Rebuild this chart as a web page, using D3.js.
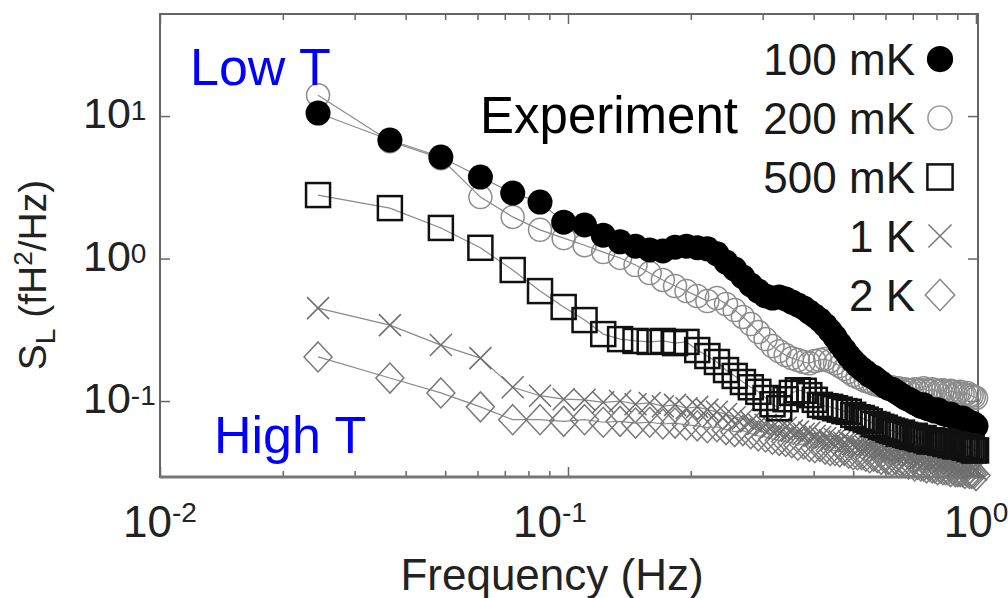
<!DOCTYPE html>
<html><head><meta charset="utf-8">
<script src="https://cdn.jsdelivr.net/npm/d3@7"></script>
<style>html,body{margin:0;padding:0;background:#fff;} svg{display:block;font-family:"Liberation Sans",Arial,Helvetica,sans-serif;}</style>
</head><body><svg id="c" width="1008" height="598"></svg>
<script>
// ---- data (frequency in Hz, spectral density in fH^2/Hz) ----
const freqs = [0.0244,0.0366,0.0488,0.0610,0.0732,0.0854,0.0976,0.1098,0.1220,0.1342,
 0.1464,0.1586,0.1708,0.1830,0.1952,0.2074,0.2196,0.2318,0.2440,0.2562,
 0.2684,0.2806,0.2928,0.3050,0.3172,0.3294,0.3416,0.3538,0.3660,0.3782,
 0.3904,0.4026,0.4148,0.4270,0.4392,0.4514,0.4636,0.4758,0.4880,0.5002,
 0.5124,0.5246,0.5368,0.5490,0.5612,0.5734,0.5856,0.5978,0.6100,0.6222,
 0.6344,0.6466,0.6588,0.6710,0.6832,0.6954,0.7076,0.7198,0.7320,0.7442,
 0.7564,0.7686,0.7808,0.7930,0.8052,0.8174,0.8296,0.8418,0.8540,0.8662,
 0.8784,0.8906,0.9028,0.9150,0.9272,0.9394,0.9516,0.9638,0.9760,0.9882,
 1.0004];
const s100mK = [10.5,6.79,5.16,3.73,2.88,2.49,1.80,1.72,1.46,1.31,
 1.22,1.15,1.13,1.20,1.22,1.19,1.17,1.08,0.945,0.844,
 0.742,0.652,0.591,0.545,0.528,0.537,0.520,0.495,0.472,0.450,
 0.421,0.395,0.370,0.341,0.310,0.281,0.251,0.228,0.207,0.191,
 0.178,0.168,0.160,0.151,0.147,0.140,0.134,0.127,0.123,0.121,
 0.117,0.113,0.109,0.105,0.103,0.100,0.097,0.095,0.092,0.094,
 0.089,0.088,0.087,0.085,0.087,0.084,0.082,0.081,0.080,0.081,
 0.078,0.077,0.076,0.075,0.076,0.074,0.072,0.071,0.070,0.069,
 0.067];
const s200mK = [14.0,6.65,5.05,2.70,1.96,1.59,1.39,1.24,1.11,1.01,
 0.90,0.791,0.707,0.641,0.591,0.545,0.503,0.528,0.479,0.435,
 0.389,0.347,0.305,0.272,0.243,0.224,0.210,0.200,0.194,0.188,
 0.184,0.191,0.194,0.197,0.191,0.184,0.176,0.168,0.160,0.152,
 0.147,0.143,0.138,0.136,0.132,0.130,0.128,0.128,0.123,0.125,
 0.121,0.123,0.119,0.121,0.118,0.119,0.121,0.118,0.119,0.123,
 0.119,0.118,0.121,0.119,0.116,0.118,0.119,0.116,0.114,0.118,
 0.116,0.112,0.114,0.116,0.112,0.110,0.114,0.110,0.109,0.107,
 0.105];
const s500mK = [2.79,2.26,1.64,1.19,0.831,0.591,0.457,0.370,0.295,0.272,
 0.264,0.260,0.264,0.255,0.260,0.228,0.207,0.188,0.165,0.150,
 0.136,0.125,0.116,0.105,0.095,0.089,0.103,0.114,0.119,0.118,
 0.110,0.102,0.094,0.092,0.091,0.089,0.087,0.085,0.084,0.080,
 0.077,0.076,0.074,0.072,0.069,0.068,0.066,0.065,0.063,0.062,
 0.061,0.059,0.060,0.058,0.057,0.056,0.057,0.055,0.054,0.055,
 0.053,0.052,0.053,0.052,0.052,0.051,0.052,0.050,0.051,0.049,
 0.050,0.048,0.049,0.048,0.048,0.047,0.048,0.046,0.047,0.045,
 0.045];
const s1K = [0.449,0.341,0.247,0.200,0.125,0.109,0.103,0.102,0.098,0.100,
 0.095,0.097,0.092,0.094,0.089,0.091,0.087,0.084,0.081,0.077,
 0.075,0.072,0.069,0.068,0.066,0.064,0.065,0.062,0.061,0.059,
 0.060,0.057,0.056,0.055,0.053,0.054,0.052,0.051,0.052,0.050,
 0.049,0.048,0.048,0.048,0.047,0.046,0.045,0.046,0.045,0.044,
 0.045,0.043,0.042,0.043,0.042,0.041,0.042,0.040,0.040,0.040,
 0.039,0.040,0.039,0.039,0.038,0.039,0.037,0.038,0.037,0.037,
 0.036,0.037,0.035,0.036,0.035,0.035,0.034,0.035,0.034,0.034,
 0.033];
const s2K = [0.204,0.145,0.114,0.091,0.074,0.074,0.072,0.074,0.071,0.072,
 0.070,0.071,0.069,0.070,0.068,0.067,0.065,0.066,0.063,0.061,
 0.062,0.059,0.057,0.056,0.054,0.053,0.052,0.051,0.049,0.050,
 0.048,0.047,0.048,0.046,0.045,0.045,0.044,0.045,0.043,0.042,
 0.042,0.042,0.041,0.040,0.041,0.040,0.039,0.040,0.039,0.038,
 0.039,0.037,0.037,0.037,0.036,0.037,0.035,0.036,0.035,0.035,
 0.034,0.035,0.034,0.034,0.033,0.034,0.033,0.033,0.033,0.032,
 0.033,0.032,0.032,0.032,0.032,0.031,0.032,0.031,0.031,0.031,
 0.030];
const seriesLabels = ["100 mK","200 mK","500 mK","1 K","2 K"];
const xTicks = [0.01, 0.1, 1];
const xTickExp = ["-2", "-1", "0"];
const xMinorTicks = [0.02,0.03,0.04,0.05,0.06,0.07,0.08,0.09,0.2,0.3,0.4,0.5,0.6,0.7,0.8,0.9];
const yTicks = [0.1, 1, 10];
const yTickExp = ["-1", "0", "1"];

// ---- scales ----
const L = 160, R = 978, T = 14, B = 477;
const svg = d3.select("#c");
const x = d3.scaleLog().domain([0.01, 1.0115]).range([L, R]);
const y = d3.scaleLog().domain([0.0293, 51.2]).range([B, T + 1]);

const axisCol = "#666";
function clean(g){ g.select(".domain").remove(); g.selectAll("text").remove(); g.selectAll("line").attr("stroke", axisCol).attr("stroke-width", 1.5); }

// ticks (inward)
svg.append("g").attr("transform",`translate(0,${B})`).call(d3.axisBottom(x).tickValues(xTicks).tickSize(-10)).call(clean);
svg.append("g").attr("transform",`translate(0,${B})`).call(d3.axisBottom(x).tickValues(xMinorTicks).tickSize(-6)).call(clean);
svg.append("g").attr("transform",`translate(0,${T})`).call(d3.axisTop(x).tickValues(xTicks).tickSize(-10)).call(clean);
svg.append("g").attr("transform",`translate(0,${T})`).call(d3.axisTop(x).tickValues(xMinorTicks).tickSize(-6)).call(clean);
svg.append("g").attr("transform",`translate(${L},0)`).call(d3.axisLeft(y).tickValues(yTicks).tickSize(-10)).call(clean);
svg.append("g").attr("transform",`translate(${R},0)`).call(d3.axisRight(y).tickValues(yTicks).tickSize(-10)).call(clean);

// frame
svg.append("rect").attr("x",L).attr("y",T).attr("width",R-L).attr("height",B-T)
  .attr("fill","none").attr("stroke",axisCol).attr("stroke-width",2);
svg.append("line").attr("x1",L).attr("x2",R).attr("y1",B).attr("y2",B).attr("stroke","#777").attr("stroke-width",3);

// tick labels
const tickCol = "#222";
xTicks.forEach((v,i)=>{
  const shift = xTickExp[i] === "-1" ? -18 : 0;
  const t = svg.append("text").attr("x", x(v) + shift).attr("y", 537).attr("text-anchor","middle")
    .attr("font-size",44).attr("fill",tickCol);
  t.append("tspan").text("10");
  t.append("tspan").attr("dy",-15).attr("font-size",28).text(xTickExp[i]);
});
yTicks.forEach((v,i)=>{
  const t = svg.append("text").attr("x", 83).attr("y", y(v) + 12)
    .attr("font-size",43).attr("fill",tickCol);
  t.append("tspan").text("10");
  t.append("tspan").attr("dy",-8).attr("font-size",28).text(yTickExp[i]);
});

// axis titles
svg.append("text").attr("x", 552).attr("y", 590).attr("text-anchor","middle")
  .attr("font-size",44).attr("fill",tickCol).text("Frequency (Hz)");
const yl = svg.append("text").attr("transform","translate(46,275) rotate(-90)").attr("text-anchor","middle")
  .attr("font-size",39).attr("fill",tickCol);
yl.append("tspan").text("S");
yl.append("tspan").attr("dy",9).attr("font-size",28).text("L");
yl.append("tspan").attr("dy",-9).text(" (fH");
yl.append("tspan").attr("dy",-14).attr("font-size",26).text("2");
yl.append("tspan").attr("dy",14).text("/Hz)");

// ---- series ----
const lineCol = "#8a8a8a";
const series = [
  {label:"2 K",   vals:s2K,   kind:"diamond", stroke:"#7a7a7a", sw:1.5},
  {label:"1 K",   vals:s1K,   kind:"cross",   stroke:"#6e6e6e", sw:1.5},
  {label:"200 mK",vals:s200mK,kind:"ocircle", stroke:"#8c8c8c", sw:1.5},
  {label:"100 mK",vals:s100mK,kind:"fcircle", stroke:"#000",    sw:1},
  {label:"500 mK",vals:s500mK,kind:"square",  stroke:"#111",    sw:2.5}
];
function drawMarker(g, kind, stroke, sw, s){
  s = s || 1;
  if (kind === "fcircle") g.append("circle").attr("r",12.5*s).attr("fill","#000");
  else if (kind === "ocircle") g.append("circle").attr("r",11.5*s).attr("fill","none").attr("stroke",stroke).attr("stroke-width",sw);
  else if (kind === "square") g.append("rect").attr("x",-12*s).attr("y",-12*s).attr("width",24*s).attr("height",24*s).attr("fill","none").attr("stroke",stroke).attr("stroke-width",sw);
  else if (kind === "cross") g.append("path").attr("d",`M${-11*s},${-11*s}L${11*s},${11*s}M${-11*s},${11*s}L${11*s},${-11*s}`).attr("fill","none").attr("stroke",stroke).attr("stroke-width",sw);
  else if (kind === "diamond") g.append("path").attr("d",`M0,${-15*s}L${14*s},0L0,${15*s}L${-14*s},0Z`).attr("fill","none").attr("stroke",stroke).attr("stroke-width",sw);
}
const line = d3.line().x(d=>x(d[0])).y(d=>y(d[1]));
series.forEach(se=>{
  if (se.vals.length !== freqs.length) throw new Error(se.label + " length " + se.vals.length + " vs " + freqs.length);
  const pts = freqs.map((f,i)=>[f, se.vals[i]]);
  const g = svg.append("g");
  g.append("path").datum(pts).attr("d",line).attr("fill","none").attr("stroke",lineCol).attr("stroke-width",1.2);
  g.selectAll("g.m").data(pts).join("g").attr("class","m")
    .attr("transform",d=>`translate(${x(d[0])},${y(d[1])})`)
    .each(function(){ drawMarker(d3.select(this), se.kind, se.stroke, se.sw); });
});

// ---- legend ----
const legendStyle = {"100 mK":["fcircle","#000",1],"200 mK":["ocircle","#999",1.5],"500 mK":["square","#111",2.5],"1 K":["cross","#777",1.5],"2 K":["diamond","#888",1.5]};
seriesLabels.forEach((lab,i)=>{
  const cy = 59 + i*59;
  svg.append("text").attr("x",915).attr("y",cy+16).attr("text-anchor","end")
    .attr("font-size",44).attr("fill","#1a1a1a").text(lab);
  const st = legendStyle[lab];
  const g = svg.append("g").attr("transform",`translate(940,${cy})`);
  drawMarker(g, st[0], st[1], st[2], 1.05);
});

// annotations
svg.append("text").attr("x",480).attr("y",133).attr("font-size",51).attr("fill","#000").text("Experiment");
svg.append("text").attr("x",190).attr("y",85).attr("font-size",52).attr("fill","#0000ff").text("Low T");
svg.append("text").attr("x",214).attr("y",453).attr("font-size",52).attr("fill","#0000ff").text("High T");
</script></body></html>
